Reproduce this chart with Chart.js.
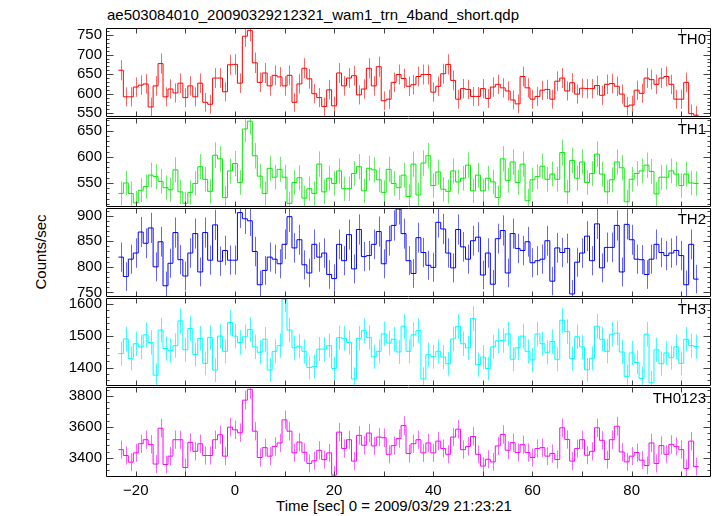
<!DOCTYPE html>
<html>
<head>
<meta charset="utf-8">
<script src="https://cdn.jsdelivr.net/npm/chart.js@4.4.1/dist/chart.umd.min.js"></script>
<style>
body { margin: 0; background: #fff; }
#wrap { position: relative; width: 717px; height: 516px; overflow: hidden; background: #fff;
        font-family: "Liberation Sans", Arial, sans-serif; }
#wrap canvas { position: absolute; left: 0; }
.txt { position: absolute; font-size: 15px; line-height: 15px; color: #000; white-space: nowrap; }
</style>
</head>
<body>
<div id="wrap">
  <div class="txt" style="left:107px;top:7px;">ae503084010_20090329212321_wam1_trn_4band_short.qdp</div>
  <div class="txt" style="left:394px;top:498px;transform:translateX(-50%);">Time [sec] 0 = 2009/03/29 21:23:21</div>
  <div class="txt" style="left:40px;top:252px;transform:translate(-50%,-50%) rotate(-90deg);">Counts/sec</div>
</div>
<script>
// bin centres (sec), 1 s bins
const binTime = [
  -23,-22,-21,-20,-19,-18,-17,-16,-15,-14,-13,-12,-11,-10,-9,-8,-7,-6,-5,-4,-3,-2,-1,
  0,1,2,3,4,5,6,7,8,9,10,11,12,13,14,15,16,17,18,19,20,21,22,23,24,25,26,27,28,29,
  30,31,32,33,34,35,36,37,38,39,40,41,42,43,44,45,46,47,48,49,50,51,52,53,54,55,56,57,58,59,
  60,61,62,63,64,65,66,67,68,69,70,71,72,73,74,75,76,77,78,79,80,81,82,83,84,85,86,87,88,89,
  90,91,92,93
];
const binHalf = 0.5;

const th0 = [
  660,592,592,617,622,625,566,620,677,592,
  612,602,627,590,620,592,627,578,573,640,
  640,605,674,675,627,747,762,679,629,653,
  620,647,643,620,647,578,625,665,638,600,
  590,567,610,569,653,620,640,646,597,612,
  665,620,669,
  582,586,629,649,639,619,623,644,649,649,
  604,619,651,675,634,586,613,611,593,593,
  613,588,617,624,615,607,584,574,644,615,
  586,593,609,611,586,632,640,607,628,599,
  614,613,613,621,596,624,626,619,599,568,
  571,609,601,640,636,624,640,644,624,586,
  586,629,549,545
];
const th1 = [
  530,550,530,512,536,543,565,562,553,541,
  537,575,533,511,532,549,581,557,534,603,
  596,522,573,587,551,653,668,602,563,530,
  578,561,576,561,511,551,560,521,539,530,
  586,533,559,549,573,539,539,568,581,535,
  578,575,556,
  532,576,549,541,565,524,586,527,588,602,
  545,571,538,534,573,552,559,584,535,565,
  535,559,552,522,596,555,590,551,586,516,
  556,562,582,557,567,557,608,533,593,559,
  590,551,568,605,567,533,556,590,579,514,
  557,568,573,584,572,529,561,561,573,567,
  545,567,550,549
];
const th2 = [
  819,781,815,827,868,846,876,800,849,763,
  807,867,814,782,827,865,790,867,813,882,
  811,832,813,813,906,894,890,830,765,793,
  819,815,806,844,898,837,853,804,788,844,
  819,827,785,777,844,812,863,796,873,820,
  822,844,869,
  806,851,881,913,865,812,787,857,828,803,
  799,887,874,827,798,873,839,815,851,858,
  784,827,766,855,871,788,865,836,832,849,
  808,812,815,851,772,837,828,836,747,809,
  827,860,812,884,798,838,838,881,790,883,
  853,815,814,785,815,844,828,822,827,832,
  822,765,844,776
];
const th3 = [
  1444,1490,1428,1475,1465,1503,1479,1376,1518,1460,
  1453,1469,1547,1456,1523,1441,1492,1413,1495,1392,
  1499,1451,1542,1499,1479,1497,1520,1465,1448,1489,
  1392,1451,1469,1615,1518,1462,1467,1451,1400,1403,
  1458,1458,1469,1397,1494,1492,1479,1364,1492,1516,
  1495,1434,1451,
  1506,1477,1489,1449,1530,1451,1503,1516,1364,1440,
  1434,1451,1433,1412,1490,1530,1475,1462,1554,1409,
  1433,1397,1465,1484,1485,1506,1426,1462,1499,1451,
  1424,1506,1475,1448,1482,1426,1549,1513,1428,1497,
  1465,1393,1429,1530,1489,1451,1505,1508,1449,1372,
  1446,1416,1366,1505,1352,1456,1412,1446,1431,1465,
  1413,1489,1469,1466
];
const th0123 = [
  3453,3415,3372,3432,3491,3517,3487,3360,3591,3357,
  3411,3517,3517,3338,3500,3442,3491,3415,3415,3517,
  3549,3411,3598,3581,3562,3772,3842,3572,3402,3466,
  3411,3474,3496,3645,3572,3432,3502,3436,3364,3381,
  3449,3389,3432,3289,3566,3460,3517,3379,3545,3481,
  3560,3477,3534,
  3530,3423,3479,3524,3608,3428,3491,3517,3432,3496,
  3432,3508,3460,3423,3534,3585,3453,3474,3538,3423,
  3347,3391,3374,3477,3551,3449,3498,3434,3485,3434,
  3402,3460,3466,3411,3428,3389,3594,3519,3379,3460,
  3517,3417,3442,3594,3513,3389,3517,3604,3438,3374,
  3411,3434,3385,3351,3496,3364,3479,3423,3487,3474,
  3453,3332,3508,3343
];

const panelNames = ["TH0", "TH1", "TH2", "TH3", "TH0123"];
const panelValues = [th0, th1, th2, th3, th0123];
const yMin = [543, 506, 743, 1345, 3283];
const yMax = [768, 674, 915, 1619, 3857];
const yMajor = [50, 50, 50, 100, 200];
const yMinor = [10, 10, 10, 20, 40];
const xMin = -26, xMax = 96;
const xMajor = 20, xMinor = 10;

// styling / layout
const colors = ["#ff0000", "#00ee00", "#0000ff", "#00ffff", "#ff00ff"];
const errColors = ["rgba(255,0,0,0.6)", "rgba(0,230,0,0.6)", "rgba(0,0,255,0.6)", "rgba(0,255,255,0.75)", "rgba(255,0,255,0.6)"];
const panelTop = [27, 117, 207, 297, 386];
const panelBottom = 476;
const FONT = '"Liberation Sans", Arial, sans-serif';

Chart.defaults.font.family = FONT;
Chart.defaults.font.size = 15;
Chart.defaults.color = "#000";

const fmt = v => String(v).replace("-", "\u2212");

// major ticks at multiples of step inside [min, max]
function stepTicks(step) {
    return function (s) {
        const t = [];
        for (let v = Math.ceil(s.min / step) * step; v <= s.max; v += step) t.push({value: v});
        s.ticks = t;
    };
}

// error bars, frame, inward ticks and panel name
const panelDeco = {
    id: "panelDeco",
    beforeDatasetsDraw(chart) {
        const o = chart.options.plugins.panelDeco;
        const ctx = chart.ctx, a = chart.chartArea;
        const xs = chart.scales.x, ys = chart.scales.y;
        ctx.save();
        ctx.beginPath();
        ctx.rect(a.left, a.top, a.right - a.left, a.bottom - a.top);
        ctx.clip();
        ctx.strokeStyle = o.errColor;
        ctx.lineWidth = 1;
        ctx.beginPath();
        o.values.forEach(function (v, i) {
            const x = Math.round(xs.getPixelForValue(binTime[i])) + 0.5;
            const e = Math.sqrt(v);
            ctx.moveTo(x, ys.getPixelForValue(v - e));
            ctx.lineTo(x, ys.getPixelForValue(v + e));
        });
        ctx.stroke();
        ctx.restore();
    },
    afterDatasetsDraw(chart) {
        const o = chart.options.plugins.panelDeco;
        const ctx = chart.ctx, a = chart.chartArea;
        const xs = chart.scales.x, ys = chart.scales.y;
        const L = Math.round(a.left) + 0.5, R = Math.round(a.right) - 0.5;
        const T = Math.round(a.top) + 0.5, B = Math.round(a.bottom) + 0.5;
        ctx.save();
        // ticks
        ctx.strokeStyle = "#444";
        ctx.lineWidth = 1;
        ctx.beginPath();
        for (let t = Math.ceil(xs.min / xMinor) * xMinor; t <= xs.max; t += xMinor) {
            const x = Math.round(xs.getPixelForValue(t)) + 0.5;
            ctx.moveTo(x, T); ctx.lineTo(x, T + 5);
            ctx.moveTo(x, B); ctx.lineTo(x, B - 5);
        }
        for (let v = Math.ceil(ys.min / o.minor) * o.minor; v <= ys.max; v += o.minor) {
            const y = Math.round(ys.getPixelForValue(v)) + 0.5;
            const len = (v % o.major === 0) ? 7 : 3;
            ctx.moveTo(L, y); ctx.lineTo(L + len, y);
            ctx.moveTo(R, y); ctx.lineTo(R - len, y);
        }
        ctx.stroke();
        // frame
        ctx.strokeStyle = "#000";
        ctx.beginPath();
        ctx.moveTo(L, T); ctx.lineTo(R, T); ctx.lineTo(R, B); ctx.lineTo(L, B); ctx.closePath();
        ctx.stroke();
        // panel name
        ctx.fillStyle = "#000";
        ctx.font = "15px " + FONT;
        ctx.textAlign = "right";
        ctx.textBaseline = "alphabetic";
        ctx.fillText(o.name, a.right - 5, a.top + 16);
        ctx.restore();
    }
};

const wrap = document.getElementById("wrap");

for (let p = 0; p < 5; p++) {
    const isBottom = p === 4;
    const top = panelTop[p];
    const bottom = isBottom ? panelBottom : panelTop[p + 1];
    const padTop = 12;
    const cvTop = top - padTop;
    const cvHeight = isBottom ? 516 - cvTop : (bottom - top) + 24;
    const padBottom = isBottom ? 0 : 12;
    const xAxisH = isBottom ? 516 - bottom : 0;

    const cv = document.createElement("canvas");
    cv.width = 717;
    cv.height = cvHeight;
    cv.style.top = cvTop + "px";
    wrap.appendChild(cv);

    const vals = panelValues[p];
    const pts = binTime.map((t, i) => ({x: t - binHalf, y: vals[i]}));
    pts.push({x: binTime[binTime.length - 1] + binHalf, y: vals[vals.length - 1]});

    new Chart(cv, {
        type: "line",
        data: {
            datasets: [{
                data: pts,
                borderColor: colors[p],
                borderWidth: 1,
                pointRadius: 0,
                stepped: true,
                fill: false,
            }],
        },
        options: {
            responsive: false,
            animation: false,
            events: [],
            layout: {padding: {left: 0, right: 6, top: padTop, bottom: padBottom}},
            plugins: {
                legend: {display: false},
                tooltip: {enabled: false},
                panelDeco: {
                    name: panelNames[p],
                    values: vals,
                    errColor: errColors[p],
                    major: yMajor[p],
                    minor: yMinor[p],
                },
            },
            scales: {
                x: {
                    type: "linear",
                    min: xMin,
                    max: xMax,
                    display: isBottom,
                    afterBuildTicks: stepTicks(xMajor),
                    afterFit: function (s) { s.height = xAxisH; },
                    grid: {display: false, drawTicks: false},
                    border: {display: false},
                    ticks: {
                        autoSkip: false,
                        maxRotation: 0,
                        padding: 6,
                        callback: fmt,
                    },
                },
                y: {
                    type: "linear",
                    min: yMin[p],
                    max: yMax[p],
                    afterBuildTicks: stepTicks(yMajor[p]),
                    afterFit: function (s) { s.width = 106; },
                    grid: {display: false, drawTicks: false},
                    border: {display: false},
                    ticks: {
                        autoSkip: false,
                        padding: 4,
                        callback: fmt,
                    },
                },
            },
        },
        plugins: [panelDeco],
    });
}
</script>
</body>
</html>
